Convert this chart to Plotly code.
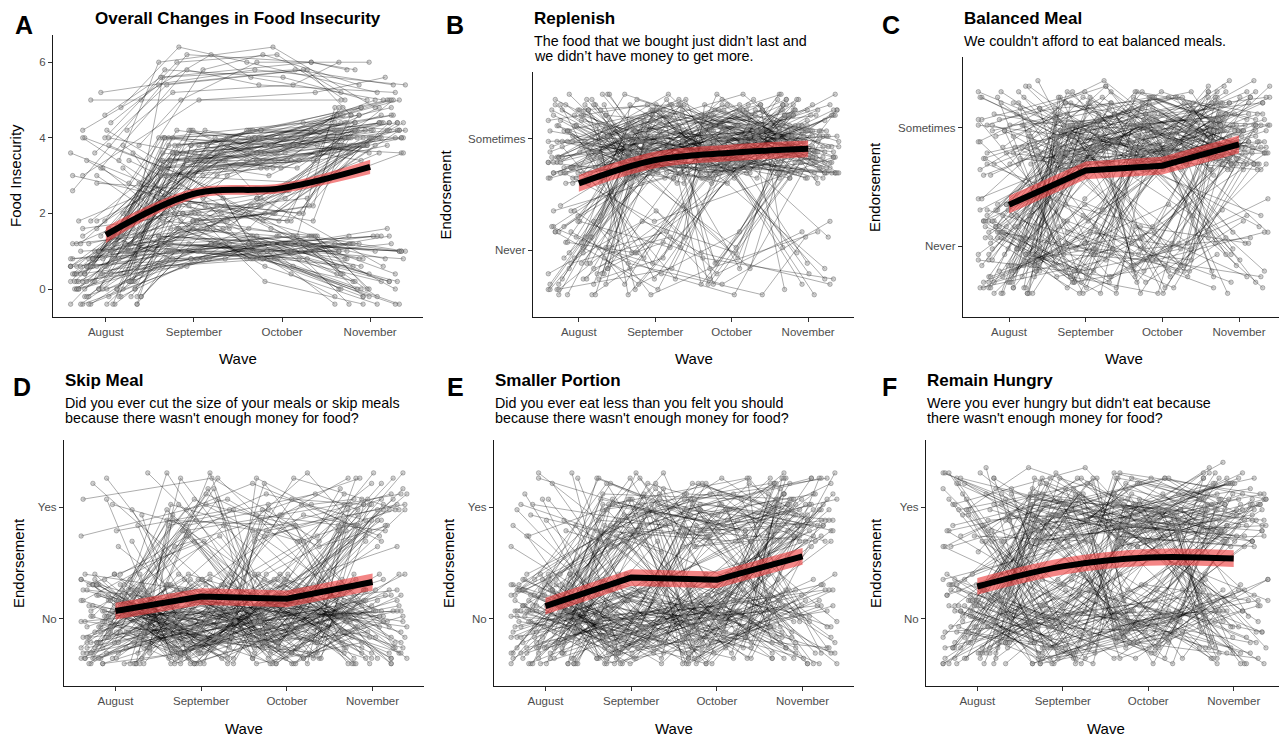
import plotly.graph_objects as go

# ---------------- data ----------------
MONTHS = ["August", "September", "October", "November"]
WAVES = [1, 2, 3, 4]

# base-36 codes: one char per wave; '.' = missing wave
B36 = "0123456789abcdefghijklmnopqrstuvwxyz"

# horizontal jitter of each subject's four points (shared by all panels)
X_JITTER = """3kq9 z1m5 a7fx 0pd2 u4hc 8w2s lb6j q0ye 5tn1 gx3v
m2c8 1rk7 w9e3 d5vz 7ja0 yc4l 2hs6 o8u1 k3b9 tf0q
9mxh e6r2 x0l7 4gdw rq5a b1zn 6vi3 n7e8 h2wt s9k0
0dj6 v3p4 c8a2 jy7g 5n1r pe9x zk2c 3ub5 f7hm i0sw
61zq ro3d l4x8 a9cj wg5n 2t7f ny0b e5kv uo6h 8cdr
j1qy b7w4 t2fm 9xa6 gi3s q5l0 7ep9 ys1k 4mzd kh8u
0wr3 dn5e vg7a 3bjx m6c1 x2ot h9f5 6kyp pa0l c4u8
z3ig 1ew6 s7n2 o0dk fb4z 5rvh iq1c w8m7 2ljq ky9a
8tg3 n4p0 u6x5 bz2m 9hew e1s8 r7kd 3o0y lc5i xj6t
7dq4 ga8b 0vnh yf3r qm1w 6i9e t5cu d2zg jx7o a0l3
5gw2 pz8d 1mc7 ua3r i6oy c0tk w4f9 9j1n rx5e 3bql
k7v0 zd2h 0s8u f5mw n1a6 y9gp 6e3x hq0c b7lz t2r5
4wn8 m3e1 xk6a a8bs q1yg 7f4o gu9d e2hv s5c3 0lx7
vo1j 2p7w j6m0 d3zr 8y5b wh2f l9k4 1t0n uc8e oa6s
ri3m 9z7q c5d1 mv0x 3n4k xg9i h1wa fe6u 6q2o yb5h
k0s3 tm8c 4jd9 b6x1 p3ur zo5e 0ak2 ng7y 7hlv ew1m
s2qa 5x8k ju4d 8c1r iw7e 1ny3 vb9l dq0u qf5n 6km0""".split()

# Panel A: food insecurity score per wave (code c -> -0.4 + 0.2*c)
A_SUBJ = """2763 4876 0797 5682 1786 3868 6979 2571 7895 4683
0568 8a79 3762 5897 1670 9789 2a86 6764 4.88 387a
0692 7777 5980 2687 8.63 5jkm 9lmn 2hjl bmnp 7kjo
3ilm amlq 6jin 1hkl 8nmr 4jlk clnp 2ihm 9kmo 5mon
3ijl 7lnq 0hgk bkmm 6njp 4hil 9lkn 2jmo 8imk 5kln
ahjm 3mnl 7jkq 1ilo 6kmp cl.n 4jin 9mlr 2hkj 7njm
5kmo bijl 3lno 8.km 6jlp cuvt mwxr hrsu qyws ktvp
rvur fxwv nstw jwyq s.vt 5bdm 28ap 9cbk 4aen 7bco
1dbl ac9q 3ebm 6adk 8bcn 2ecp bdfl 4a.o 7cem 0bdr
mh84 ia62 kc51 gd93 le70 ac30 j.a4 hb92 mje5 r..r
4697 1885 6778 3a69 0876 7987 2665 5789 8.96 3581
9678 1794 6860 4787 2877 7a96 0587 5868 6kln 3imo
bjlm 8mkp 1ijn 5lmr 9hkl 4nmo 2jlq 7kin cmlp 0ijm
6lnn 3kmr 8jjl ailo 5mkm 2hln 9nlp 4kjo 7iml 1lmq
bjko 6mnr 3hil 8knm 5jm. 0lkn puwv ivts nxur lrww
otvs gvxt 3bcl 6adn 9ceo 1aem 5dbq 8cdk 2bfo 7acm
4ecn 0dbl lf72 jc83 ne61 hd94 kb50 gf.2 ia73 mc41""".split()

# Panels B-F: binary endorsement + jitter (0-h -> low level, i-z -> high level)
B_SUBJ = """kqmv sjwo xnrk mzpt iuly qkvs wois nrxm tlqz jvnp
ypmk oxtj rimw lsvq uknr zqjo pwtl kmys vjpx mrkn
swqu ioxz tnlj xkro lvmt qpwi nysk wjuq kllr ormy
uxjp jtqn zmkw pivs mruo ynlk rwpt ksmx vqoj lzrn
tjwp oumk xqsv ilyn smtq wkjr nxvo qopm jylt 3pqm
atkw 0mrv erxn 7qls bwnk 2ktp hovr 5jmx cnsq 8rwl
1xpo gmkt 4uqr dlvn 6srj 9kwp fqmy 0vtl bjok 5nsr
cxmq 2pjv 48qm b2tr g7nk 15ws e9lp 72cq d40r 3h6m
p3rt w8mk n1qv sbxo ke.n ro5s xk9q mt2w qmr4 vlsb
knw1 tqo8 jxm6 rup3 5a73 1g4c 9.2e c60b 6q2r an7p
nvsl ryko jpxq wlmu otzk skqn xmiv lrpo qwjt vnsm
kyrl zotw mjqx tlnv ipwr ruks nqmz wxjo sktp lovy
ymrn pjsk vuow kqtl xrmj mwqs tizo jnkv olsx qrmt
zkjv nplw usxr lmqk wjoy 4nsq brkv 1qmw fvtn 6lpr
0xkm dosj 8mwq 3tlv gjrp 2wno eqsk 7kvm cprl 5uoj
9mkx 37rp c1mw a8nq 05tk 9c3s 4e8p o6qr x3mk l9sv
t0nw qn6s vp2m nrm5 wkq2 sox9 ltp0 6b82 e05c 2s5q""".split()

C_SUBJ = """lrwq ujmx ptkn xows kmrz qvlj niup wsqk ryjm mkxt
tpnv jwor olsi vnky iqtm zmpr sxjl lkvo ptwn yruk
krmq nvoj 5pwr aktm 1rnx fmqv 3ujo cxls 8nrk 0vpy
hlmt 6qwn bjsu 2tkr eomx 9rjq 4wnl dkpv 7mxs gqlo
1ntz asrk 5jvm cpwq 3lko hyrt 8msj 0qnv enxl 6rkp
47mr b1qv e9nk 28ws g3lt 5dox a0rm 7fjq c4uk 1hpn
639r b7am 0e4t d25k 8gcq 4a1o f30w 2b8n 3r7m cm4q
8w0k fl9s nb.r u5qk q2lw kfmo rs4p lq8v wm1k mtq7
rko3 vjna 5947 a1c3 0g6b e38f 7d.2 2b5h 4rm6 bvkc
1lq9 gpt0 s39n m.2r 68m4 d1qb p763 x.e5 3o8a co41
mqsv rjok wnlt pxiq kvrm suwj nlpy tqko yjmr iosn
vrkw lmxq oztj qkns xpvl 6rqm bktw 2nov gmsr 0wlq
dxpk 8lrn 4vjt fqmo 1sxl 9pkw cnrj 3mtv hruo 7jsq
aown 5tlm emkx 0qvs 8orl 59nq c3lw 16rt f8mo a2vk
74px d0jr 48bs e29m 1c7q g06w 5h3n b4ar 7p3w ck8n
1t5q q7mv ld.s w4oj nk5r uq0m rpm4 kwsb 39g1 b75e
0c4a f82d 5ql7 dmr2 2vs8 o86q 74n9 a0ke r2c9 6m3b""".split()

D_SUBJ = """3817 a5c0 6e29 1b4f h073 4d8a 92g5 c61e 0f3b 75h2
b94d 2a06 e7c3 58f1 g2b9 d04h 16a8 9c5e f38g a0d2
4h71 c2e6 7b05 0g9a e54c 3fa8 b1h6 62d0 h8c4 5e2b
8a6f 1d93 g47e d0b5 93h1 a7c8 2f04 eb69 60ga c35d
f1e7 4.8c b52h 7g0e 0c.9 hd46 3a1f 9e7b 55c2 d8g0
26bq a94m e0dv 7c3k 1g8s d5an h07w 3f2o b81r 60ej
c4.t 9a5l f37p 4hbx 02cu 5rkq bmpw 2tjn gqvl 8jrs
3p8m ck2r 0w6n ex4q 7l9t al1o 6s3b dm80 1u5e hq27
4ng9 93rm c7lq 08wk f2pt 5dxn b1sr 27m5 e4qa a0v3
6bk8 rnqw lskv xomt q4b2 vg71 n9.e s28r j5dn 4onc
2c94 b81e 5g0a e36d 1a7h 9f2c 64b0 d58g 0h3e 7e19
a29f 3d6b g15c 81e4 c70a 46f8 f0b3 h5d2 02a7 b9c6
58e1 d2h9 7a4f 19g3 e6b0 3c8d a50e 6f1h 0b72 g94c
c38a 85d6 4h0b 27e5 f1a9 38ds b2an e71r 0g5k 6c9w
d4bo 19hq a63m f05u 5e8j 72cx 4ntq cslr 1wpm 6m5r
bq0o 2x7s fk3n 8r4a 0o91 eu6c 3l2g a5mr 17wq d3ks
6bpn 49r1 c2o7 f6l0 mqto swkr p1c7 w84a k3bq 9rn5""".split()

E_SUBJ = """5a83 c16g 0e4b 97d2 h3a5 2b0f e81c 6g94 a2h7 d05e
38c1 f7b6 1d9a b4e0 g63h 72f8 c0a4 49.d e58b 0h2c
a6g9 3e.1 d9b5 85f2 4qmr awkt 1rpv gnlx 7smo cjwq
0otk erns 5mvp bxjl 2kqw hpro 8lts 3vmn 47ar b1cm
e93w 2g6p d05t 80hk 5cbq a37n f24v 1e9o h6.s 38dl
c71x 6b5r 9f0j 0a4u g2en 3q7m bk2w 0r9p ew4l 7m1s
dt6k ap3r 5j8o 92rm c6lw 08qk f4ps 4dvn b1jr 7akt
h5mq 2rm7 ckq4 9wn0 eos8 5lpb 0vt6 6s3b dm80 1u5e
hq27 4ng9 ak1c rnqw lskv xomt ojrl q4b2 vg71 n9.e
t3a5 s28r j5dn wc1q 27m5 e4qa a0v3 6bk8 g1n2 pm6v
7c51 a4g8 1e0d f92b 36h4 d8a0 0b7e c15g 94f2 e6c9
2a3h b08d 5g6a h1e7 8d2c 4f9b g70e 3plq bvns 0mkr
fsow 6qtv 9xjm dron 2lwk ekpt 5ums 28bq c50m f36w
1a9r 7e4k h2ct 4g1o a87s 0dbn e39v 6f5l 95ap 4n6r
cs1w 8o9q gv3m 1k0t ar7o 63qn d9lr 05sw b4mk 8hvp
f1oq 5nq9 eml3 0rw7 bts2 7t4e 2l8a cs0h 9w53 wpsn
mktq rivo s6d1 l09f o4b3 n7ap x2dm 3an7 f6r0 b1qd""".split()

F_SUBJ = """mrwq ujox ptkl xnvs kmrz qvlj niup wsqk ryjm lkxt
tpnv jwor 4a83 c16g 0e4b 97d2 h3a5 2b0f e81c 6g94
a2h7 d05e 38c1 f7b6 1d9a b4e0 g63h 72f8 c0a4 49.d
5pwr aktm 1rnx fmqv 3ujo cxls 8nrk 0vpy hlmt 6qwn
bjsu 2tkr eomx 9rjq 4wnl dkpv 7mxs 47mr b1qv e9nk
28ws g3lt 5dox a0rm 7fjq rm3a wk80 ot5e jq1c nb.r
u5qk q2lw kfmo s7pt y0jn 4rm6 bvkc 1lq9 gpt0 6sn3
dwo7 68m4 d1qb 39r7 a5kc f0p2 2ew8 s39n m.2r ka7w
v16p mtq7 rko3 vjna 3r7m cm4q 8w0k fl9s 0p5v eu3o
639r b7am 0e4t d25k 8gcq 3o8a co41 p763 x.e5 ta2g
nspw kqjr xmvo tlrk ivmn qyps oknt wrlj 6c82 b15f
3g9a e07d 0h4b 92e6 d5a1 48fc a3h0 f61e 1b7g c09d
7e3a 2nqs ckvm 8orw 0tmj fpsn 5lwq aukr 3mpo gjtv
9rnl dwom 1qks 64np b2rm 09ws e5kq 3ato c8lv qn6d
ur1a lw82 s9mq k3ro x1nw p6tk 7rn2 cpm8 4tk0 fwo5
26q9 a8na e3s1 5bl6 m48r t0cn jd5w ops3 vmqb 9k4q
dp1s 3w8n bo6m 70bs c46n 1h8q e3ar 4s7c w15e r9a3""".split()

# model-estimated means (black line) and band half-widths (red ribbon)
MEAN_A = [1.43, 2.52, 2.67, 3.23]
HALF_A = [0.21, 0.14, 0.13, 0.19]
MEAN_B = [0.60, 0.81, 0.875, 0.91]
MEAN_C = [0.35, 0.64, 0.68, 0.86]
MEAN_D = [0.07, 0.20, 0.18, 0.33]
MEAN_E = [0.115, 0.37, 0.35, 0.56]
MEAN_F = [0.29, 0.47, 0.55, 0.54]
HALF_L = 0.075

TITLES = {
    "A": ("Overall Changes in Food Insecurity", []),
    "B": ("Replenish", ["The food that we bought just didn\u2019t last and",
                        "we didn\u2019t have money to get more."]),
    "C": ("Balanced Meal", ["We couldn't afford to eat balanced meals."]),
    "D": ("Skip Meal", ["Did you ever cut the size of your meals or skip meals",
                        "because there wasn't enough money for food?"]),
    "E": ("Smaller Portion", ["Did you ever eat less than you felt you should",
                              "because there wasn't enough money for food?"]),
    "F": ("Remain Hungry", ["Were you ever hungry but didn't eat because",
                            "there wasn't enough money for food?"]),
}

# ---------------- decoding ----------------
def dec_x(tok):
    return [-0.4 + B36.index(c) * 0.8 / 35 for c in tok]

def dec_a(c):
    return None if c == "." else -0.4 + B36.index(c) * 0.2

def dec_l(c):
    if c == ".":
        return None
    k = B36.index(c)
    return -0.4 + k * 0.8 / 17 if k < 18 else 0.6 + (k - 18) * 0.8 / 17

# ---------------- layout (pixels, window coordinates) ----------------
W, H = 1287, 737
OFF = 8  # default page margin of the html body
FW, FH = W - OFF, H - OFF
FONT = "Liberation Sans, Arial, sans-serif"
# key: (x0, x1, y_top, y_bottom, letter_x, ylabel_x)
PANELS = {
    "A": (53, 423, 35, 317, 24, 15),
    "B": (533, 854, 72, 317, 455, 445),
    "C": (963, 1285, 57, 317, 891, 874),
    "D": (64, 424, 440, 686, 22, 18),
    "E": (494, 854, 440, 686, 455, 448),
    "F": (926, 1285, 440, 686, 889, 875),
}
SUBJ = {"A": A_SUBJ, "B": B_SUBJ, "C": C_SUBJ, "D": D_SUBJ, "E": E_SUBJ, "F": F_SUBJ}
MEANS = {"A": MEAN_A, "B": MEAN_B, "C": MEAN_C, "D": MEAN_D, "E": MEAN_E, "F": MEAN_F}
SMOOTH = {"A": True, "B": True, "C": False, "D": False, "E": False, "F": True}

def px_x(p):
    return (p - OFF) / FW

def px_y(p):
    return 1 - (p - OFF) / FH

fig = go.Figure()
annotations = []
layout_axes = {}

for i, key in enumerate(["A", "B", "C", "D", "E", "F"]):
    x0, x1, yt, yb, lx, ylx = PANELS[key]
    n = i + 1
    xa = "x" if n == 1 else f"x{n}"
    ya = "y" if n == 1 else f"y{n}"
    dec = dec_a if key == "A" else dec_l

    lx_, ly_, mx_, my_ = [], [], [], []
    for j, tok in enumerate(SUBJ[key]):
        xo = dec_x(X_JITTER[j % len(X_JITTER)])
        for w in range(4):
            v = dec(tok[w])
            if v is None:
                continue
            lx_.append(WAVES[w] + xo[w])
            ly_.append(v)
            mx_.append(WAVES[w] + xo[w])
            my_.append(v)
        lx_.append(None)
        ly_.append(None)

    fig.add_trace(go.Scatter(x=lx_, y=ly_, mode="lines", xaxis=xa, yaxis=ya,
                             line=dict(color="rgba(0,0,0,0.32)", width=1),
                             connectgaps=False, hoverinfo="skip", showlegend=False))
    fig.add_trace(go.Scatter(x=mx_, y=my_, mode="markers", xaxis=xa, yaxis=ya,
                             marker=dict(size=4.5, color="rgba(150,150,150,0.45)",
                                         line=dict(color="rgba(70,70,70,0.5)", width=0.7)),
                             hoverinfo="skip", showlegend=False))

    m = MEANS[key]
    half = HALF_A if key == "A" else [HALF_L] * 4
    shape = "spline" if SMOOTH[key] else "linear"
    up = [a + h for a, h in zip(m, half)]
    lo = [a - h for a, h in zip(m, half)]
    fig.add_trace(go.Scatter(x=WAVES, y=lo, xaxis=xa, yaxis=ya, mode="lines",
                             line=dict(width=0, color="rgba(0,0,0,0)", shape=shape),
                             hoverinfo="skip", showlegend=False))
    fig.add_trace(go.Scatter(x=WAVES, y=up, xaxis=xa, yaxis=ya, mode="lines",
                             fill="tonexty", fillcolor="rgba(238,60,60,0.62)",
                             line=dict(width=0, color="rgba(0,0,0,0)", shape=shape),
                             hoverinfo="skip", showlegend=False))
    fig.add_trace(go.Scatter(x=WAVES, y=m, xaxis=xa, yaxis=ya, mode="lines",
                             line=dict(color="black", width=6, shape=shape),
                             hoverinfo="skip", showlegend=False))

    axname_x = "xaxis" if n == 1 else f"xaxis{n}"
    axname_y = "yaxis" if n == 1 else f"yaxis{n}"
    common = dict(showline=True, linecolor="#1a1a1a", linewidth=1.2, showgrid=False,
                  zeroline=False, ticks="outside", ticklen=4, tickcolor="#333333",
                  tickwidth=1.1, tickfont=dict(family=FONT, size=11.5, color="#4d4d4d"))
    layout_axes[axname_x] = dict(common, domain=[px_x(x0), px_x(x1)], range=[0.4, 4.6],
                                 tickvals=WAVES, ticktext=MONTHS, anchor=ya)
    if key == "A":
        yt_vals, yt_text, yr = [0, 2, 4, 6], ["0", "2", "4", "6"], [-0.74, 6.72]
    elif key in ("B", "C"):
        yt_vals, yt_text, yr = [0, 1], ["Never", "Sometimes"], [-0.6, 1.6]
    else:
        yt_vals, yt_text, yr = [0, 1], ["No", "Yes"], [-0.6, 1.6]
    layout_axes[axname_y] = dict(common, domain=[px_y(yb), px_y(yt)], range=yr,
                                 tickvals=yt_vals, ticktext=yt_text, anchor=xa)

    # panel letter
    row_top = 0 if yb < 400 else 362
    annotations.append(dict(text=f"<b>{key}</b>", x=px_x(lx), y=px_y(row_top + 25),
                            xref="paper", yref="paper", showarrow=False,
                            xanchor="center", yanchor="middle",
                            font=dict(family=FONT, size=25, color="black")))
    title, sub = TITLES[key]
    if key == "A":
        annotations.append(dict(text=f"<b>{title}</b>", x=px_x((x0 + x1) / 2),
                                y=px_y(row_top + 18), xref="paper", yref="paper",
                                showarrow=False, xanchor="center", yanchor="middle",
                                font=dict(family=FONT, size=17, color="black")))
    else:
        annotations.append(dict(text=f"<b>{title}</b>", x=px_x(x0 - 1),
                                y=px_y(row_top + 18), xref="paper", yref="paper",
                                showarrow=False, xanchor="left", yanchor="middle",
                                font=dict(family=FONT, size=17, color="black")))
        for k, line in enumerate(sub):
            annotations.append(dict(text=line, x=px_x(x0 - 1),
                                    y=px_y(row_top + 41 + 15 * k), xref="paper",
                                    yref="paper", showarrow=False, xanchor="left",
                                    yanchor="middle",
                                    font=dict(family=FONT, size=14.3, color="black")))
    # axis titles
    annotations.append(dict(text="Wave", x=px_x((x0 + x1) / 2), y=px_y(yb + 42),
                            xref="paper", yref="paper", showarrow=False,
                            xanchor="center", yanchor="middle",
                            font=dict(family=FONT, size=15, color="black")))
    annotations.append(dict(text="Food Insecurity" if key == "A" else "Endorsement",
                            x=px_x(ylx), y=px_y((yt + yb) / 2), xref="paper",
                            yref="paper", showarrow=False, textangle=-90,
                            xanchor="center", yanchor="middle",
                            font=dict(family=FONT, size=15, color="black")))

fig.update_layout(width=FW, height=FH, margin=dict(l=0, r=0, t=0, b=0),
                  plot_bgcolor="white", paper_bgcolor="white",
                  annotations=annotations, **layout_axes)

fig.write_html("out.html")
